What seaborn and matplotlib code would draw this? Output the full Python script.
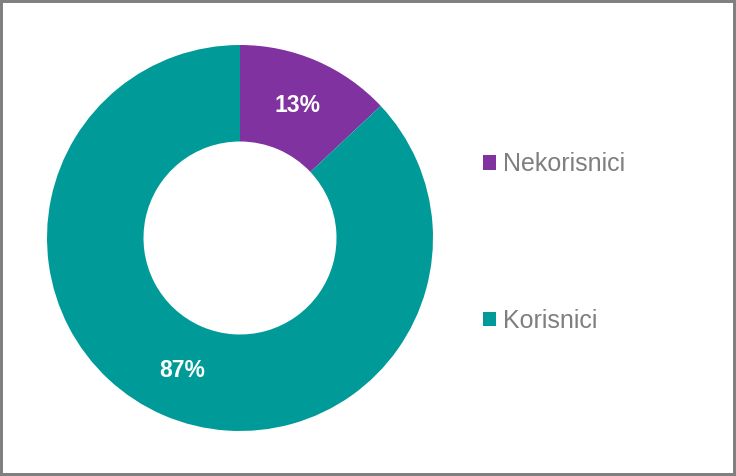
import matplotlib
matplotlib.use('Agg')
import matplotlib.pyplot as plt
from matplotlib.patches import Rectangle, Patch
import seaborn as sns

# podaci
labels = ['Nekorisnici', 'Korisnici']
values = [13, 87]
colors = ['#7F32A0', '#009B99']

sns.set_theme(style='white')
plt.rcParams['font.family'] = ['Liberation Sans', 'DejaVu Sans']

fig = plt.figure(figsize=(7.36, 4.76), dpi=100)
fig.patch.set_facecolor('white')

# osi za krafnu (kvadratne u pikselima)
ax = fig.add_axes([47 / 736, 45 / 476, 386 / 736, 386 / 476])
pal = sns.color_palette(colors)
wedges, _, autotexts = ax.pie(
    values, colors=pal, startangle=90, counterclock=False,
    autopct='%1.0f%%', pctdistance=0.75,
    wedgeprops=dict(width=0.5, linewidth=0),
    textprops=dict(color='white', fontsize=16.5, fontweight='bold'))
ax.set_xlim(-1, 1)
ax.set_ylim(-1, 1)
ax.set_aspect('equal')
ax.axis('off')

# legenda
handles = [Patch(facecolor=c, edgecolor='none') for c in pal]
fig.legend(handles, labels, loc='center left', bbox_to_anchor=(483 / 736, 1 - 242.5 / 476),
           frameon=False, fontsize=18, labelcolor='#7F7F7F',
           handlelength=0.5, handleheight=0.5, handletextpad=0.3,
           labelspacing=5.3, borderpad=0, borderaxespad=0)

# okvir
fig.patches.append(Rectangle((0, 0), 1, 1, transform=fig.transFigure, fill=False,
                             edgecolor='#808080', linewidth=4.3))

fig.savefig('out.png', dpi=100)
